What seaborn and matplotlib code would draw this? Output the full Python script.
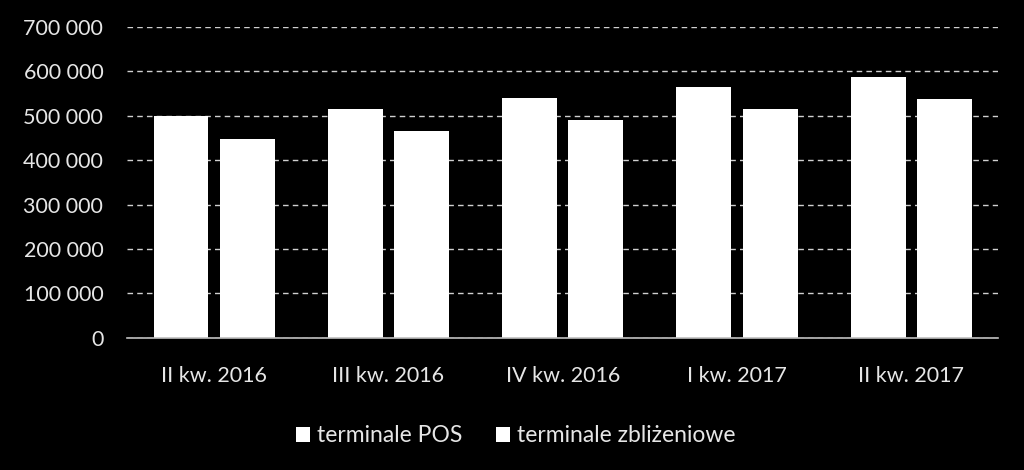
import matplotlib
matplotlib.use("Agg")
import matplotlib.pyplot as plt
import seaborn as sns
import pandas as pd
from matplotlib.ticker import FuncFormatter

categories = ["II kw. 2016", "III kw. 2016", "IV kw. 2016", "I kw. 2017", "II kw. 2017"]
series_names = ["terminale POS", "terminale zbliżeniowe"]
pos_values = [500000, 516000, 539000, 565000, 588000]
contactless_values = [447000, 465000, 490000, 516000, 537000]
yticks = [0, 100000, 200000, 300000, 400000, 500000, 600000, 700000]

df = pd.DataFrame({
    "kwartal": categories * 2,
    "seria": [series_names[0]] * len(categories) + [series_names[1]] * len(categories),
    "wartosc": pos_values + contactless_values,
})

sns.set_theme(style="dark")
plt.rcParams["font.family"] = ["Lato", "DejaVu Sans"]

fig = plt.figure(figsize=(10.24, 4.70), dpi=100, facecolor="black")
ax = fig.add_axes([0.124, 0.281, 0.851, 0.662])
ax.set_facecolor("black")

sns.barplot(data=df, x="kwartal", y="wartosc", hue="seria",
            palette=["white", "white"], width=0.76, gap=0.17,
            edgecolor="none", ax=ax, legend=True)

ax.set_ylim(0, 700000)
ax.set_yticks(yticks)
ax.yaxis.set_major_formatter(FuncFormatter(lambda v, p: f"{int(v):,}".replace(",", " ")))
ax.set_xlim(-0.5, len(categories) - 0.5)
ax.set_xlabel("")
ax.set_ylabel("")
ax.grid(axis="y", color="#d0d0d0", linestyle=(0, (4, 3)), linewidth=1.0)
ax.grid(axis="x", visible=False)
ax.set_axisbelow(True)
for s in ["top", "right", "left"]:
    ax.spines[s].set_visible(False)
ax.spines["bottom"].set_color("#bfbfbf")
ax.spines["bottom"].set_linewidth(1.2)
ax.tick_params(axis="both", colors="#e0e0e0", labelsize=15.5, length=0)
ax.tick_params(axis="y", pad=17)
ax.tick_params(axis="x", pad=20)
for lbl in ax.get_xticklabels() + ax.get_yticklabels():
    lbl.set_color("#e6e6e6")

handles, labels = ax.get_legend_handles_labels()
ax.legend(handles, labels, loc="upper center", bbox_to_anchor=(0.446, -0.215),
          ncol=2, frameon=False, fontsize=16.5, labelcolor="#e6e6e6",
          handlelength=0.6, handleheight=0.6, handletextpad=0.3, columnspacing=1.5)

fig.savefig("out.png", dpi=100, facecolor="black")
